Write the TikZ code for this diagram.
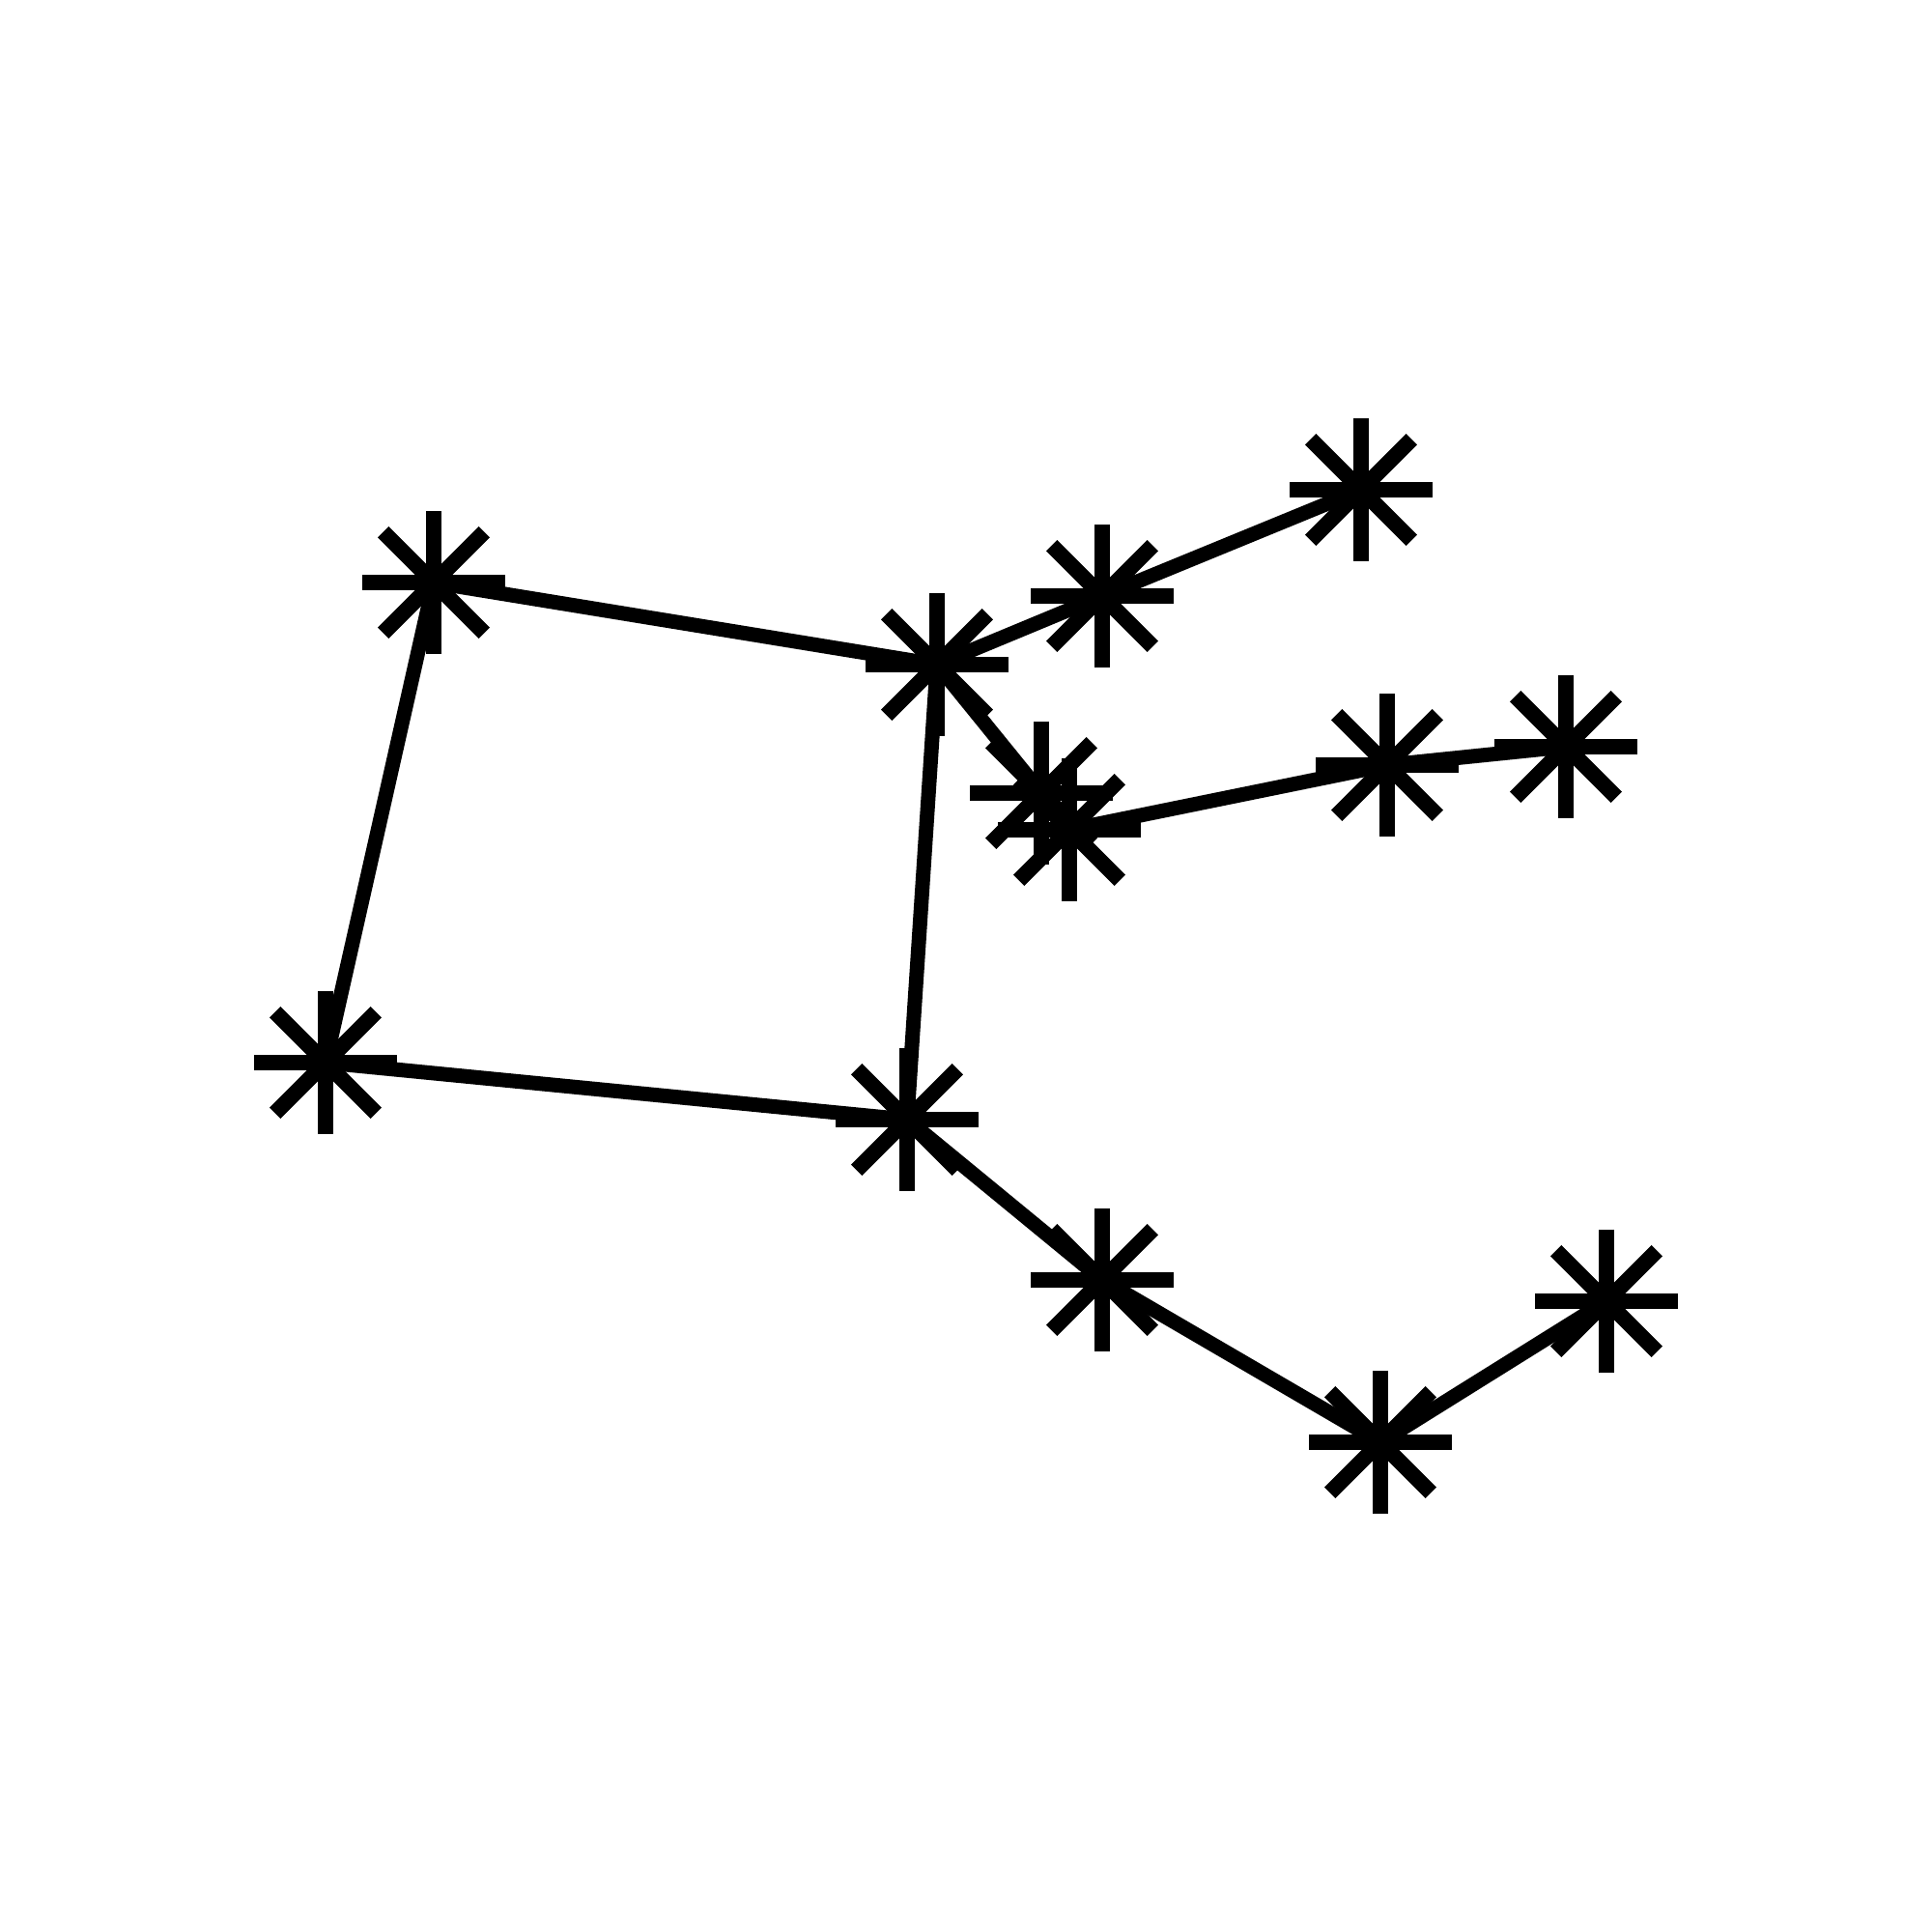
\documentclass[tikz,border=0pt]{standalone}
\tikzset{
  astnode/.style={minimum size=1.48cm, inner sep=0pt, path picture={
      \foreach \a in {0,45,90,135}
        \draw[line width=0.16cm] (path picture bounding box.center)
          +(\a:0.74) -- +(\a:-0.74);
    }},
  link/.style={line width=0.15cm}
}
\begin{document}
\begin{tikzpicture}
  \useasboundingbox (0,0) rectangle (20,20);
  \node[astnode] (v1) at (4.49, 13.97) {};
  \node[astnode] (v2) at (9.70, 13.12) {};
  \node[astnode] (v3) at (11.41, 13.83) {};
  \node[astnode] (v4) at (14.09, 14.93) {};
  \node[astnode] (v5) at (10.78, 11.79) {};
  \node[astnode] (v6) at (11.07, 11.41) {};
  \node[astnode] (v7) at (14.36, 12.08) {};
  \node[astnode] (v8) at (16.21, 12.27) {};
  \node[astnode] (v9) at (3.37, 9.00) {};
  \node[astnode] (v10) at (9.39, 8.41) {};
  \node[astnode] (v11) at (11.41, 6.75) {};
  \node[astnode] (v12) at (14.29, 5.07) {};
  \node[astnode] (v13) at (16.63, 6.53) {};
  \draw[link] (v9.center) -- (v1.center) -- (v2.center) -- (v10.center) -- (v9.center);
  \draw[link] (v2.center) -- (v3.center) -- (v4.center);
  \draw[link] (v2.center) -- (v5.center);
  \draw[link] (v6.center) -- (v7.center) -- (v8.center);
  \draw[link] (v10.center) -- (v11.center) -- (v12.center) -- (v13.center);
\end{tikzpicture}
\end{document}
